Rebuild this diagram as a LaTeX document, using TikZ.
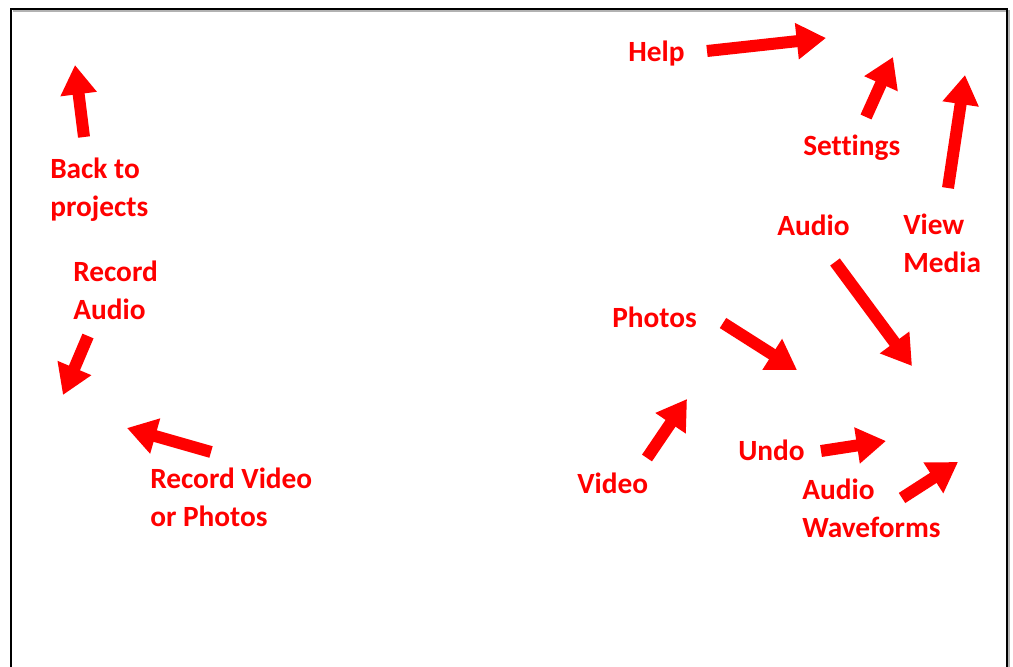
\documentclass[tikz,border=0pt]{standalone}
\usepackage{fontspec}
\setmainfont[Ligatures=CommonOff]{Carlito}
\usepackage{tikz}
\usetikzlibrary{arrows.meta}
\definecolor{labelRed}{RGB}{255, 0, 0}
\tikzset{myFrame/.style={line width=1.8pt,color=black}}
\tikzset{myArrow/.style={line width=9pt,color=labelRed,-{Triangle[length=22pt,width=26pt]}}}
\tikzset{myLabel/.style={anchor=base west,inner sep=0pt,align=left,text=labelRed,font=\fontsize{22}{28.5}\selectfont\bfseries}}

\begin{document}
\begin{tikzpicture}[x=0.75pt,y=-0.75pt]
		\useasboundingbox (0,0) rectangle (1013,667);
		%\draw[help lines, step=50] (0,0) grid (1013,667);
		\draw[gray!60, line width=1pt](13,11)--(1009,11)--(1009,690);
		\draw[myFrame](11,690)--(11,9)--(1007,9)--(1007,690);
		% left side (base = last line)
		\node[myLabel] (back) at (50,216) {Back to\\projects};
		\node[myLabel] (recAudio) at (73,319) {Record\\Audio};
		\node[myLabel] (recVideo) at (150,526) {Record Video\\or Photos};
		% right side
		\node[myLabel] (help) at (628,61) {Help};
		\node[myLabel] (settings) at (803,155) {Settings};
		\node[myLabel] (audio) at (777,235) {Audio};
		\node[myLabel] (viewMedia) at (903,272) {View\\Media};
		\node[myLabel] (photos) at (612,327) {Photos};
		\node[myLabel] (video) at (577,493) {Video};
		\node[myLabel] (undo) at (738,460) {Undo};
		\node[myLabel] (waveforms) at (802,537) {Audio\\Waveforms};
		% arrow ends
		\coordinate (backT) at (84,137);
		\coordinate (backH) at (75,65);
		\coordinate (recAudioT) at (88,336);
		\coordinate (recAudioH) at (63,395);
		\coordinate (recVideoT) at (211,452);
		\coordinate (recVideoH) at (127,428);
		\coordinate (helpT) at (707,51);
		\coordinate (helpH) at (826,38);
		\coordinate (settingsT) at (866,117);
		\coordinate (settingsH) at (893,57);
		\coordinate (viewMediaT) at (948,188);
		\coordinate (viewMediaH) at (965,75);
		\coordinate (audioT) at (835,262);
		\coordinate (audioH) at (912,366);
		\coordinate (photosT) at (723,323);
		\coordinate (photosH) at (797,370);
		\coordinate (videoT) at (647,458);
		\coordinate (videoH) at (687,399);
		\coordinate (undoT) at (821,451);
		\coordinate (undoH) at (886,441);
		\coordinate (waveformsT) at (902,498);
		\coordinate (waveformsH) at (958,462);
		\foreach \n in {back,recAudio,recVideo,help,settings,viewMedia,audio,photos,video,undo,waveforms}
			\draw[myArrow](\n T)--(\n H);
	\end{tikzpicture}
\end{document}
